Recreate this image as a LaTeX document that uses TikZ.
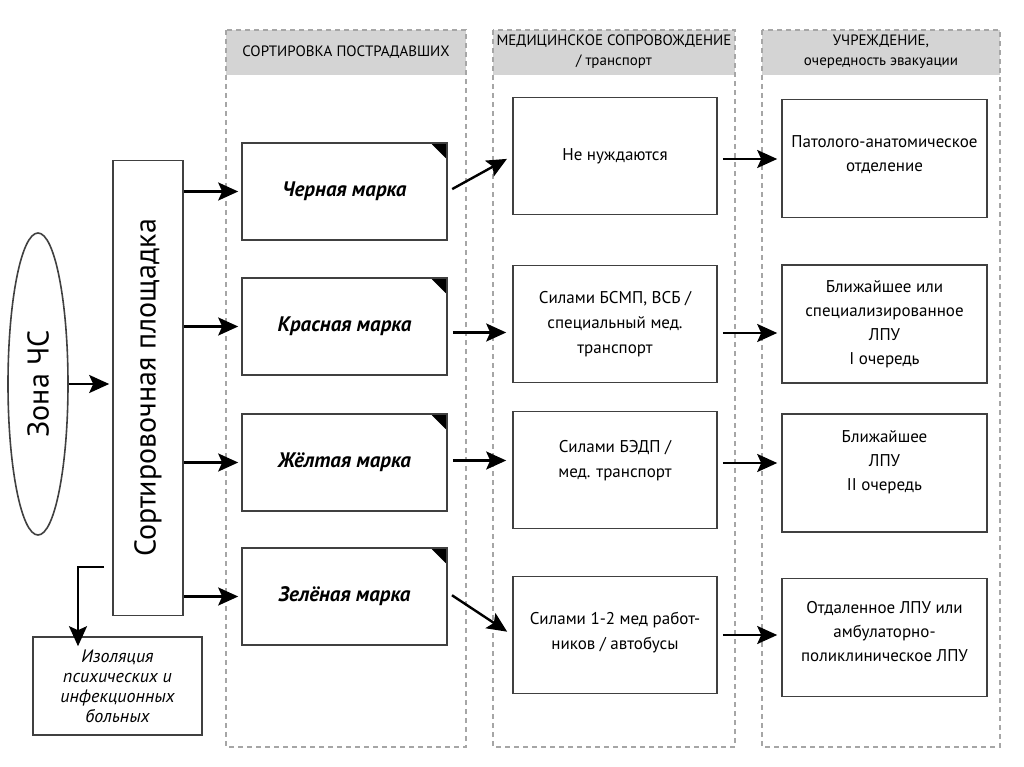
\documentclass[tikz,border=0pt]{standalone}
\usepackage{fontspec}
\setmainfont{PT Sans}
\usetikzlibrary{arrows.meta,shapes.geometric}
\begin{document}
\begin{tikzpicture}[x=1pt,y=-1pt,
    box/.style={draw=black!75,line width=1.6pt,rectangle,align=center,inner sep=2pt},
    markbox/.style={box,minimum width=205pt,minimum height=97pt,font=\fontsize{21}{24}\selectfont\bfseries\itshape},
    carebox/.style={box,minimum width=204pt,minimum height=117pt,font=\fontsize{17}{25}\selectfont},
    destbox/.style={box,minimum width=205pt,minimum height=118pt,font=\fontsize{17}{24}\selectfont},
    column/.style={draw=black!35,line width=1.3pt,dash pattern=on 5pt off 4pt},
    head/.style={align=center,font=\fontsize{15}{20}\selectfont},
    arr/.style={-{Stealth[length=20pt,width=18pt,inset=4pt]},line width=2.4pt}]
  \useasboundingbox (0,0) rectangle (1024,767);
  % columns
  \fill[black!17] (226,30) rectangle (466,75);
  \fill[black!17] (493,30) rectangle (735,75);
  \fill[black!17] (762,30) rectangle (1000,75);
  \draw[column] (226,30) rectangle (466,747);
  \draw[column] (493,30) rectangle (735,747);
  \draw[column] (762,30) rectangle (1000,747);
  \node[head] (h1) at (346,52) {СОРТИРОВКА ПОСТРАДАВШИХ};
  \node[head] (h2) at (614,52) {МЕДИЦИНСКОЕ СОПРОВОЖДЕНИЕ\\/ транспорт};
  \node[head] (h3) at (881,52) {УЧРЕЖДЕНИЕ,\\очередность эвакуации};
  % left part
  \node[draw=black!75,line width=1.6pt,ellipse,minimum width=60pt,minimum height=302pt] (zone) at (38,384) {};
  \node[rotate=90,font=\fontsize{30}{34}\selectfont] at (zone) {Зона ЧС};
  \node[box,minimum width=70pt,minimum height=455pt] (sort) at (148,388) {};
  \node[rotate=90,font=\fontsize{30}{34}\selectfont] at (sort) {Сортировочная площадка};
  \node[box,minimum width=169pt,minimum height=98pt,font=\fontsize{18}{20}\selectfont\itshape] (iso) at (117.5,686)
    {Изоляция\\психических и\\инфекционных\\больных};
  \coordinate (turn) at (78,567);
  % marks
  \node[markbox] (m1) at (344.5,191.5) {Черная марка};
  \node[markbox] (m2) at (344.5,326.5) {Красная марка};
  \node[markbox] (m3) at (344.5,462.5) {Жёлтая марка};
  \node[markbox] (m4) at (344.5,596.5) {Зелёная марка};
  \foreach \m in {m1,m2,m3,m4}
    \fill ([shift={(-2,2)}]\m.north east) -- ++(-14,0) -- ++(14,14) -- cycle;
  % transport
  \node[carebox] (c1) at (615,156) {Не нуждаются};
  \node[carebox] (c2) at (615,324) {Силами БСМП, ВСБ /\\специальный мед.\\транспорт};
  \node[carebox,text depth=22pt] (c3) at (615,470) {Силами БЭДП /\\мед. транспорт};
  \node[carebox,text depth=8pt] (c4) at (615,635) {Силами 1-2 мед работ-\\ников / автобусы};
  % destination
  \node[destbox,text depth=10pt] (d1) at (884.5,158.5) {Патолого-анатомическое\\отделение};
  \node[destbox] (d2) at (884.5,324) {Ближайшее или\\специализированное\\ЛПУ\\I очередь};
  \node[destbox,text depth=24pt] (d3) at (884.5,473) {Ближайшее\\ЛПУ\\II очередь};
  \node[destbox,text depth=12pt] (d4) at (884.5,637.5) {Отдаленное ЛПУ или\\амбулаторно-\\поликлиническое ЛПУ};
  % arrows
  \begin{scope}[arr]
    \draw[shorten >=3pt] (zone.east) -- (zone.east -| sort.west);
    \draw[shorten <=8pt] (sort.west |- turn) -- (turn) -- ([yshift=-10pt]iso.north -| turn);
    \draw[shorten >=3pt] (sort.east |- m1.west) -- (m1.west);
    \draw[shorten >=3pt] (sort.east |- m2.west) -- (m2.west);
    \draw[shorten >=3pt] (sort.east |- m3.west) -- (m3.west);
    \draw[shorten >=3pt] (sort.east |- m4.west) -- (m4.west);
    \draw[shorten <=5pt,shorten >=6pt] (m1.east) -- (c1.west);
    \draw[shorten <=5pt,shorten >=6pt] ([yshift=-6pt]m2.east) -- ([yshift=-6pt]m2.east -| c2.west);
    \draw[shorten <=5pt,shorten >=6pt] ([yshift=2pt]m3.east) -- ([yshift=2pt]m3.east -| c3.west);
    \draw[shorten <=5pt,shorten >=6pt] ([yshift=4pt]m4.east) -- (c4.west);
    \draw[shorten <=5pt,shorten >=4pt] ([yshift=-3pt]c1.east) -- ([yshift=-3pt]c1.east -| d1.west);
    \draw[shorten <=5pt,shorten >=4pt] ([yshift=-9pt]c2.east) -- ([yshift=-9pt]c2.east -| d2.west);
    \draw[shorten <=5pt,shorten >=4pt] ([yshift=7pt]c3.east) -- ([yshift=7pt]c3.east -| d3.west);
    \draw[shorten <=5pt,shorten >=4pt] (c4.east) -- (c4.east -| d4.west);
  \end{scope}
\end{tikzpicture}
\end{document}
